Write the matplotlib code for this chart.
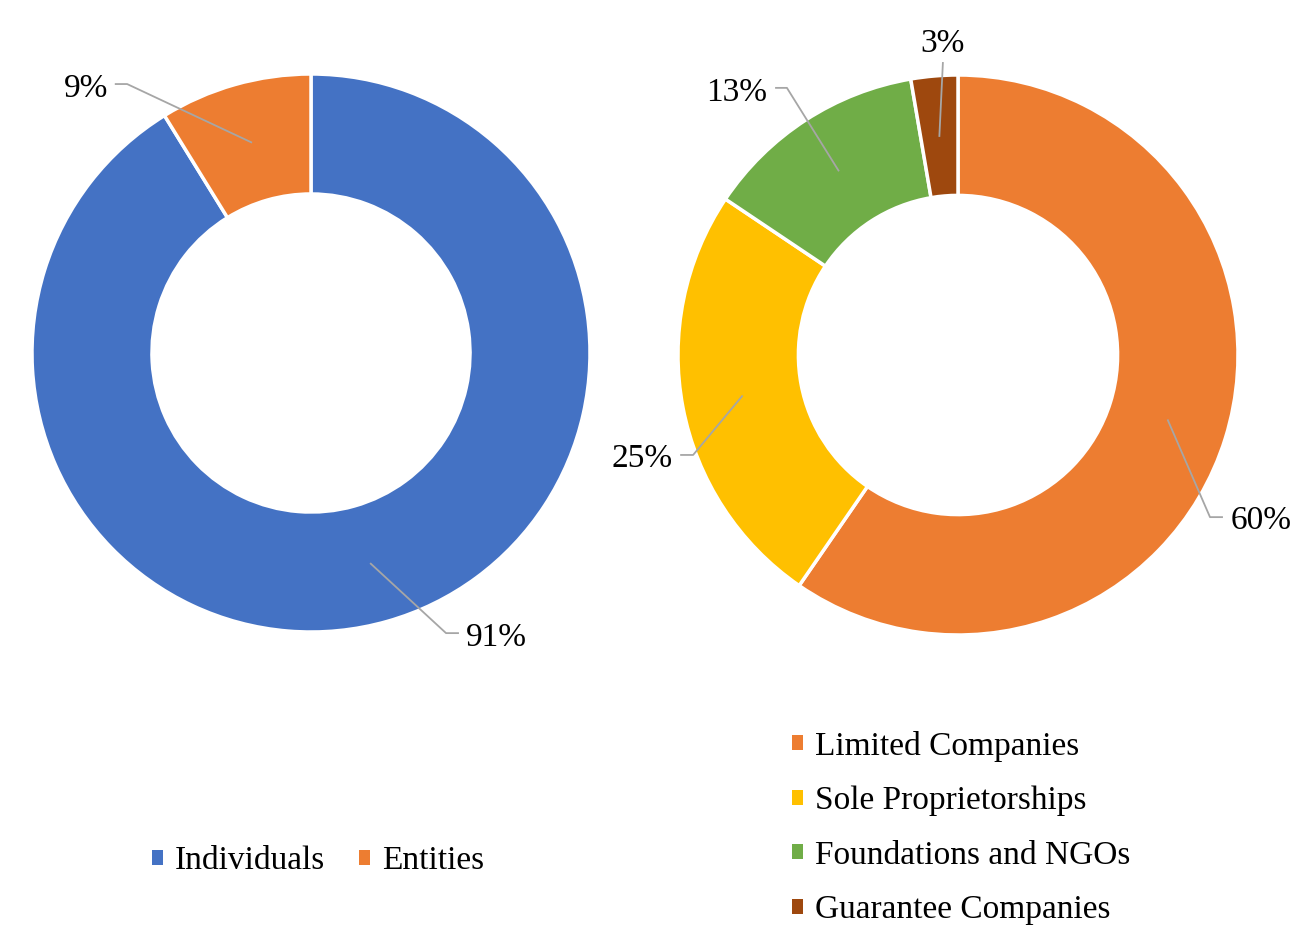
import matplotlib
matplotlib.use("Agg")
import matplotlib.pyplot as plt
from matplotlib.patches import Patch
import numpy as np

plt.rcParams["font.family"] = ["Liberation Serif", "DejaVu Serif"]

# ── data ──
LEFT_LABELS = ["Individuals", "Entities"]
LEFT_VALUES = [91.2, 8.8]
LEFT_COLORS = ["#4472C4", "#ED7D31"]

RIGHT_LABELS = ["Limited Companies", "Sole Proprietorships",
                "Foundations and NGOs", "Guarantee Companies"]
RIGHT_VALUES = [59.6, 24.8, 12.9, 2.7]
RIGHT_COLORS = ["#ED7D31", "#FFC000", "#70AD47", "#9E480E"]

# ── label layout (axes units, radius = 1): elbow, line end, text pos, ha ──
LEFT_LAYOUT = [
    ((0.484, -1.004), (0.527, -1.004), (0.556, -1.050), "left"),
    ((-0.659, 0.964), (-0.700, 0.964), (-0.728, 0.918), "right"),
]
RIGHT_LAYOUT = [
    ((0.900, -0.579), (0.943, -0.579), (0.972, -0.621), "left"),
    ((-0.946, -0.357), (-0.989, -0.357), (-1.020, -0.400), "right"),
    ((-0.611, 0.954), (-0.650, 0.954), (-0.683, 0.907), "right"),
    ((-0.054, 1.043), (-0.054, 1.043), (-0.054, 1.082), "center"),
]

W, H = 1297, 932
RING = 0.43
FS = 24
LINE_COL = "#A6A6A6"


def donut(ax, values, colors, layout):
    wedges, _ = ax.pie(values, colors=colors, startangle=90, counterclock=False,
                       radius=1.0,
                       wedgeprops=dict(width=RING, edgecolor="white", linewidth=2.5))
    total = sum(values)
    r_mid = 1.0 - RING / 2
    for w, v, (elbow, end, txt, ha) in zip(wedges, values, layout):
        ang = np.deg2rad((w.theta1 + w.theta2) / 2)
        anchor = (r_mid * np.cos(ang), r_mid * np.sin(ang))
        ax.plot([anchor[0], elbow[0], end[0]], [anchor[1], elbow[1], end[1]],
                color=LINE_COL, lw=1.3, clip_on=False, zorder=5)
        ax.text(txt[0], txt[1], f"{round(v / total * 100)}%", ha=ha,
                va="baseline", fontsize=FS, color="black")
    ax.set_xlim(-1, 1)
    ax.set_ylim(-1, 1)
    ax.set_aspect("equal")
    ax.axis("off")


def px_axes(fig, cx, cy, r):
    return fig.add_axes([(cx - r) / W, (H - cy - r) / H, 2 * r / W, 2 * r / H])


fig = plt.figure(figsize=(W / 100, H / 100), dpi=100)

ax1 = px_axes(fig, 311, 353, 279)
donut(ax1, LEFT_VALUES, LEFT_COLORS, LEFT_LAYOUT)

ax2 = px_axes(fig, 958, 355, 280)
donut(ax2, RIGHT_VALUES, RIGHT_COLORS, RIGHT_LAYOUT)

leg_kw = dict(frameon=False, fontsize=FS, handlelength=0.33, handleheight=0.33,
              handletextpad=0.36, borderpad=0, borderaxespad=0)

h1 = [Patch(facecolor=c, edgecolor="none") for c in LEFT_COLORS]
fig.legend(h1, LEFT_LABELS, loc="center", ncol=2, columnspacing=1.0,
           bbox_to_anchor=(318 / W, 1 - 861 / H), **leg_kw)

h2 = [Patch(facecolor=c, edgecolor="none") for c in RIGHT_COLORS]
fig.legend(h2, RIGHT_LABELS, loc="center left", ncol=1, labelspacing=0.72,
           bbox_to_anchor=(792 / W, 1 - 828 / H), **leg_kw)

fig.savefig("out.png", dpi=100, facecolor="white")
